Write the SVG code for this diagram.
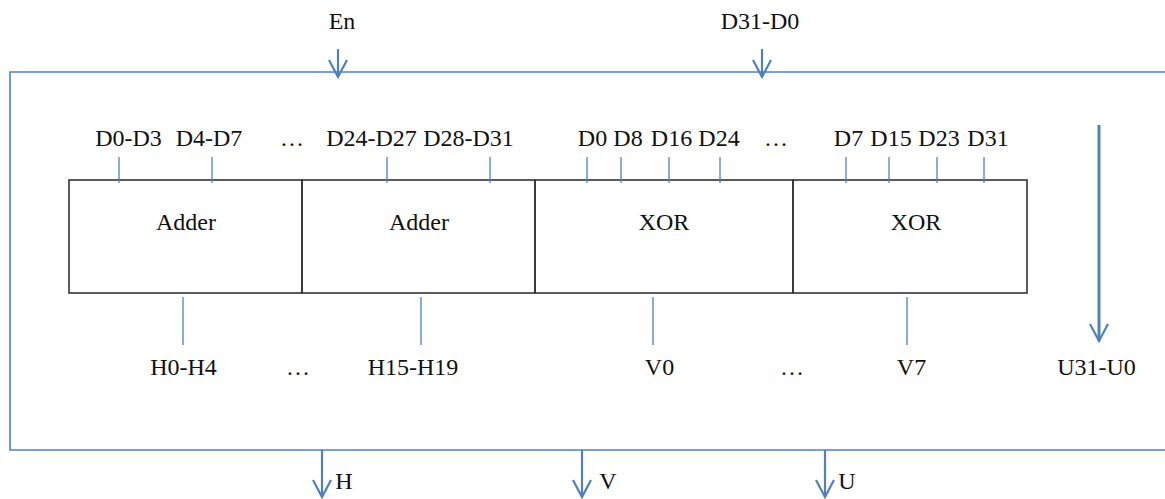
<svg xmlns="http://www.w3.org/2000/svg" width="1165" height="499" viewBox="0 0 1165 499">
<style>
text{font-family:"Liberation Serif","Times New Roman",serif;font-size:24px;fill:#111;text-anchor:middle}
.blue{stroke:#4F81BD;fill:none}
.frame{stroke-width:1.6}
.tick{stroke-width:1.3}
.arr{stroke-width:2.2}
.arrb{stroke-width:3}
.box{fill:none;stroke:#333;stroke-width:1.6}
</style>
<defs>
<marker id="ah" markerUnits="userSpaceOnUse" markerWidth="40" markerHeight="40" refX="0" refY="0" orient="auto" overflow="visible">
<path d="M-17,-9 L0,0 L-17,9" fill="none" stroke="#4F81BD" stroke-width="2.2"/>
</marker>
</defs>
<rect width="1165" height="499" fill="#fff"/>
<g id="frame">
<path class="blue frame" d="M1165,72 H10 V450 H1165"/>
</g>
<g id="inputs">
<text x="342" y="29">En</text>
<text x="760" y="29">D31-D0</text>
</g>
<g id="adder1">
<rect class="box" x="69" y="180" width="233" height="113"/>
<text x="186" y="230">Adder</text>
</g>
<g id="adder2">
<rect class="box" x="302" y="180" width="233" height="113"/>
<text x="419" y="230">Adder</text>
</g>
<g id="xor1">
<rect class="box" x="535" y="180" width="258" height="113"/>
<text x="664" y="230">XOR</text>
</g>
<g id="xor2">
<rect class="box" x="793" y="180" width="234" height="113"/>
<text x="916" y="230">XOR</text>
</g>
<g id="top-labels">
<text x="128.5" y="146">D0-D3</text>
<text x="209" y="146">D4-D7</text>
<text x="292" y="146">…</text>
<text x="371.5" y="146">D24-D27</text>
<text x="468.5" y="146">D28-D31</text>
<text x="592.5" y="146">D0</text>
<text x="628" y="146">D8</text>
<text x="671.5" y="146">D16</text>
<text x="719" y="146">D24</text>
<text x="776" y="146">…</text>
<text x="848.5" y="146">D7</text>
<text x="891" y="146">D15</text>
<text x="939" y="146">D23</text>
<text x="988" y="146">D31</text>
</g>
<g id="bottom-labels">
<text x="183.5" y="375">H0-H4</text>
<text x="298" y="375">…</text>
<text x="413" y="375">H15-H19</text>
<text x="659.5" y="375">V0</text>
<text x="792" y="375">…</text>
<text x="911.5" y="375">V7</text>
<text x="1096.5" y="375">U31-U0</text>
</g>
<g id="outputs">
<text x="344" y="489">H</text>
<text x="608" y="489">V</text>
<text x="847" y="489">U</text>
</g>
<g id="connectors">
<g class="blue tick">
<line x1="119" y1="157" x2="119" y2="183"/>
<line x1="212" y1="157" x2="212" y2="183"/>
<line x1="387" y1="157" x2="387" y2="183"/>
<line x1="490" y1="157" x2="490" y2="183"/>
<line x1="587" y1="157" x2="587" y2="183"/>
<line x1="621" y1="157" x2="621" y2="183"/>
<line x1="669" y1="157" x2="669" y2="183"/>
<line x1="720" y1="157" x2="720" y2="183"/>
<line x1="846" y1="157" x2="846" y2="183"/>
<line x1="889" y1="157" x2="889" y2="183"/>
<line x1="937" y1="157" x2="937" y2="183"/>
<line x1="984" y1="157" x2="984" y2="183"/>
<line x1="183" y1="297" x2="183" y2="345"/>
<line x1="421" y1="297" x2="421" y2="345"/>
<line x1="653" y1="297" x2="653" y2="345"/>
<line x1="907" y1="297" x2="907" y2="345"/>
</g>
<line class="blue arr" x1="338" y1="49" x2="338" y2="77" marker-end="url(#ah)"/>
<line class="blue arr" x1="762" y1="49" x2="762" y2="77" marker-end="url(#ah)"/>
<line class="blue arrb" x1="1099" y1="125" x2="1099" y2="341" marker-end="url(#ah)"/>
<line class="blue arr" x1="322" y1="450" x2="322" y2="497" marker-end="url(#ah)"/>
<line class="blue arr" x1="582" y1="450" x2="582" y2="497" marker-end="url(#ah)"/>
<line class="blue arr" x1="825" y1="450" x2="825" y2="497" marker-end="url(#ah)"/>
</g>
</svg>
